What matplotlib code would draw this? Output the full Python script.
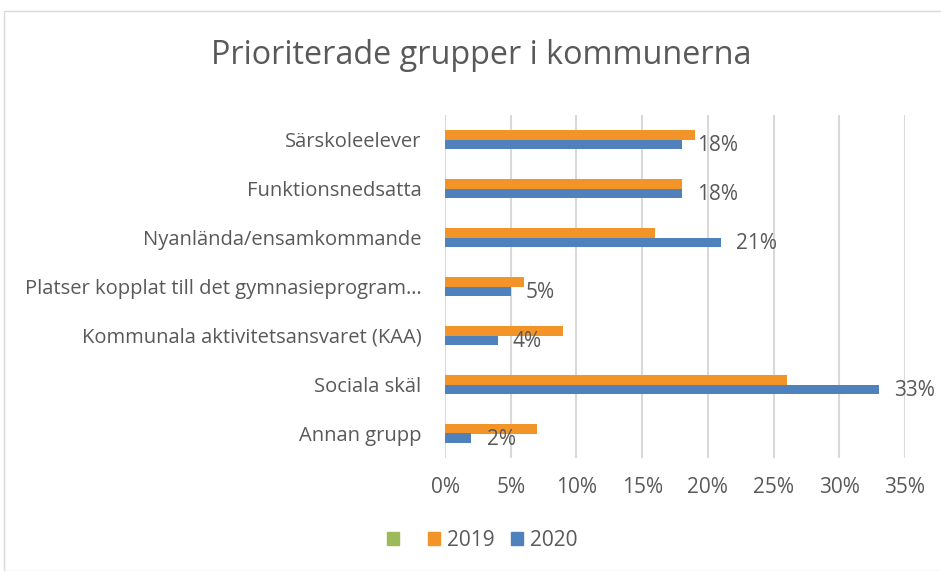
import numpy as np
import matplotlib.pyplot as plt
from matplotlib.patches import Patch, Rectangle
from matplotlib.ticker import FuncFormatter

# === Data ===
categories = [
    "Särskoleelever",
    "Funktionsnedsatta",
    "Nyanlända/ensamkommande",
    "Platser kopplat till det gymnasieprogram…",
    "Kommunala aktivitetsansvaret (KAA)",
    "Sociala skäl",
    "Annan grupp",
]
values_2019 = [19, 18, 16, 6, 9, 26, 7]
values_2020 = [18, 18, 21, 5, 4, 33, 2]
x_ticks = [0, 5, 10, 15, 20, 25, 30, 35]

text_color = "#595959"
orange = "#F39428"
blue = "#4F81BD"
green = "#9BBB59"

plt.rcParams["font.family"] = ["Open Sans", "DejaVu Sans"]

fig = plt.figure(figsize=(9.41, 5.71), dpi=100)
ax = fig.add_axes([445 / 941, 1 - 458 / 571, (905 - 445) / 941, (458 - 115) / 571])

# äußerer Rahmen des Diagramms
fig.patches.append(Rectangle((4 / 941, 0.0), 1.0, 1 - 11 / 571, transform=fig.transFigure,
                             fill=False, edgecolor="#D9D9D9", linewidth=1.0))

y = np.arange(len(categories))
h = 0.2
ax.barh(y - h / 2, values_2019, height=h, color=orange, zorder=3)
bars = ax.barh(y + h / 2, values_2020, height=h, color=blue, zorder=3)

# Datenbeschriftung nur für 2020
for rect, v in zip(bars, values_2020):
    ax.annotate(f"{v}%", (rect.get_width(), rect.get_y() + rect.get_height() / 2),
                xytext=(11, -1), textcoords="offset points", va="center", ha="left",
                fontsize=15, color=text_color)

ax.set_xlim(0, 35)
ax.set_ylim(len(categories) - 0.5, -0.5)
ax.set_xticks(x_ticks)
ax.xaxis.set_major_formatter(FuncFormatter(lambda v, p: f"{v:.0f}%"))
ax.set_yticks(y)
ax.set_yticklabels(categories)
ax.tick_params(axis="both", length=0, labelsize=15, colors=text_color)
ax.tick_params(axis="y", labelsize=14.5, pad=17)
ax.tick_params(axis="x", pad=14)
for s in ax.spines.values():
    s.set_visible(False)
ax.grid(axis="x", color="#D9D9D9", linewidth=1.5, zorder=0)

fig.text(481 / 941, 1 - 56 / 571, "Prioriterade grupper i kommunerna", ha="center", va="center",
         fontsize=23.3, color=text_color)

handles = [Patch(color=green, label=" "), Patch(color=orange, label="2019"), Patch(color=blue, label="2020")]
fig.legend(handles=handles, loc="center", bbox_to_anchor=(482 / 941, 1 - 540 / 571), ncol=3,
           frameon=False, fontsize=15, labelcolor=text_color, handlelength=0.6, handleheight=0.6,
           columnspacing=0.8, handletextpad=0.3)

fig.savefig("out.png", dpi=100)
